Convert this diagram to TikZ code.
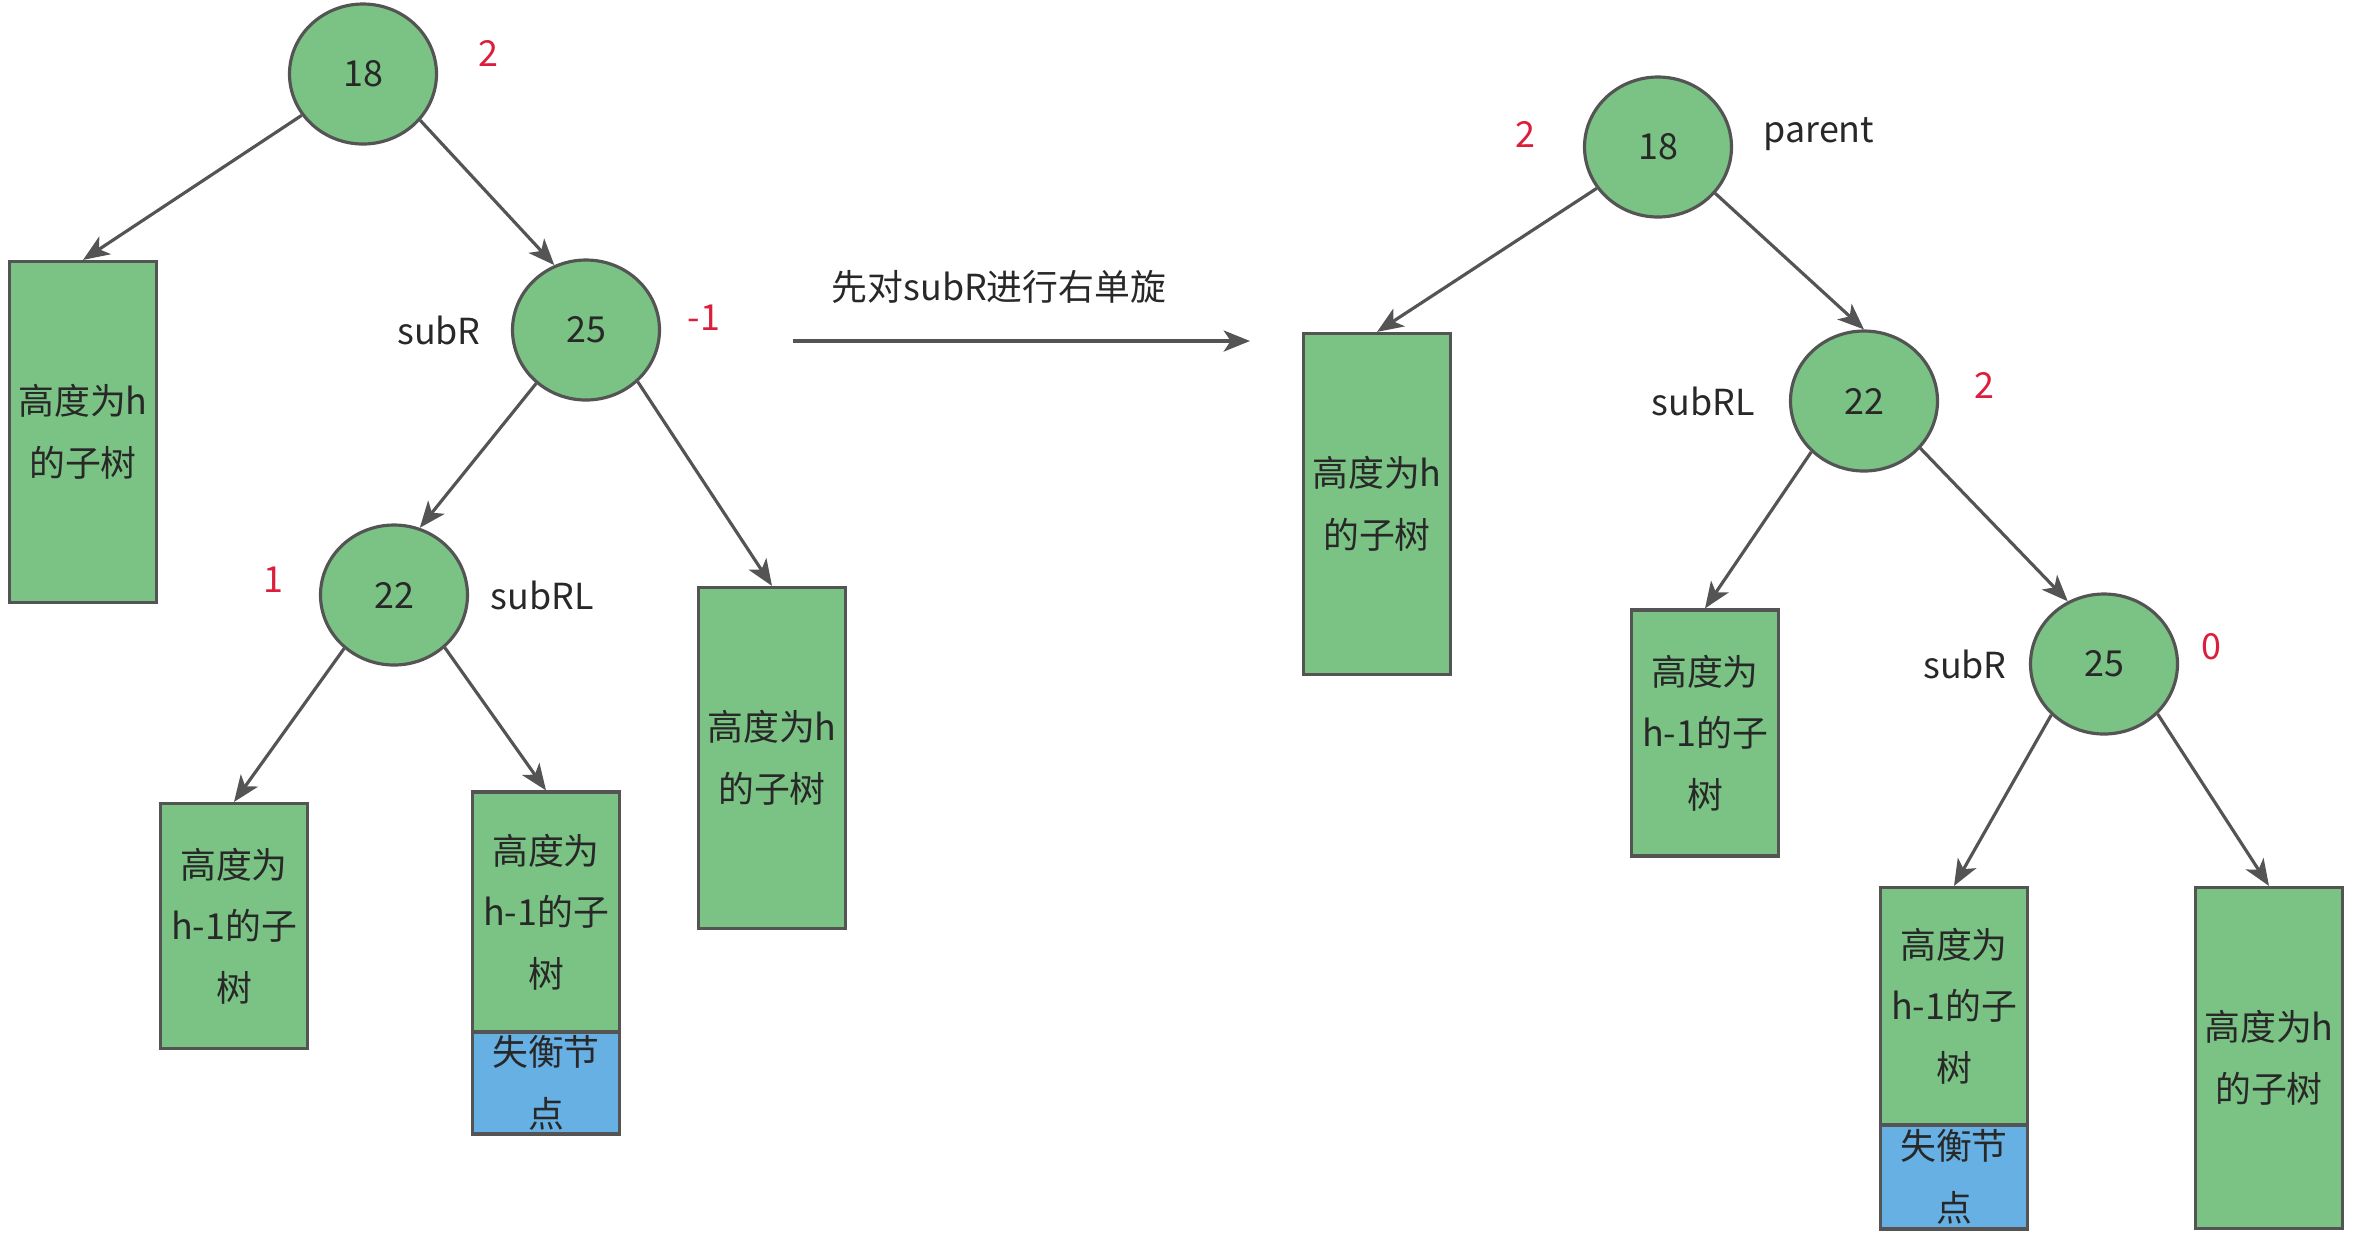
\documentclass[tikz,border=0pt]{standalone}
\usepackage{fontspec}
\setmainfont{Noto Sans CJK SC}
\usetikzlibrary{arrows.meta,shapes.geometric}
\definecolor{avlgreen}{RGB}{122,195,132}
\definecolor{avlblue}{RGB}{102,176,228}
\definecolor{avlgray}{RGB}{84,84,84}
\definecolor{avlred}{RGB}{220,30,60}
\definecolor{avltext}{RGB}{40,40,40}
\begin{document}
\begin{tikzpicture}[
  every node/.style={font=\fontsize{10.2}{17.5}\selectfont,text=avltext},
  keynode/.style={ellipse,draw=avlgray,fill=avlgreen,line width=0.9pt,
    minimum width=1.47cm,minimum height=1.40cm,inner sep=0pt},
  subtree/.style={rectangle,draw=avlgray,fill=avlgreen,line width=0.9pt,
    minimum width=1.47cm,inner sep=0pt,align=center},
  lostbox/.style={subtree,fill=avlblue},
  bf/.style={text=avlred},
  link/.style={draw=avlgray,line width=0.9pt,
    -{Stealth[length=7.5pt,width=6pt,inset=2pt]}}]
  \useasboundingbox (0,0) rectangle (23.55,-12.43);
  % before the rotation
  \node[keynode] (L18) at (3.63,-0.74) {18};
  \node[bf] (L18bf) at (4.88,-0.53) {2};
  \node[subtree,minimum height=3.41cm] (LA) at (0.83,-4.32) {高度为h\\的子树};
  \node[keynode] (L25) at (5.86,-3.30) {25};
  \node (L25name) at (4.39,-3.30) {subR};
  \node[bf] (L25bf) at (7.04,-3.18) {-1};
  \node[keynode] (L22) at (3.94,-5.95) {22};
  \node[bf] (L22bf) at (2.73,-5.80) {1};
  \node (L22name) at (5.42,-5.95) {subRL};
  \node[subtree,minimum height=3.41cm] (LD) at (7.72,-7.58) {高度为h\\的子树};
  \node[subtree,minimum height=2.45cm] (LB) at (2.34,-9.26) {高度为\\h-1的子\\树};
  \node[subtree,minimum height=2.40cm] (LC) at (5.46,-9.12) {高度为\\h-1的子\\树};
  \node[lostbox,minimum height=1.02cm] (LCx) at (5.46,-10.83) {失衡节\\点};
  \draw[link] (L18.214) -- (LA.north);
  \draw[link] (L18.321) -- (L25.116);
  \draw[link] (L25.227) -- (L22.69);
  \draw[link] (L25.315) -- (LD.north);
  \draw[link] (L22.227) -- (LB.north);
  \draw[link] (L22.314) -- (LC.north);
  % the step
  \coordinate (rotL) at (7.93,-3.41);
  \coordinate (rotR) at (12.50,-3.41);
  \draw[link] (rotL) -- (rotR);
  \node (rotlabel) at (9.99,-2.87) {先对subR进行右单旋};
  % after the rotation
  \node[keynode] (R18) at (16.58,-1.47) {18};
  \node[bf] (R18bf) at (15.25,-1.34) {2};
  \node (R18name) at (18.19,-1.34) {parent};
  \node[subtree,minimum height=3.41cm] (RA) at (13.77,-5.04) {高度为h\\的子树};
  \node[keynode] (R22) at (18.64,-4.01) {22};
  \node (R22name) at (17.03,-4.01) {subRL};
  \node[bf] (R22bf) at (19.84,-3.85) {2};
  \node[subtree,minimum height=2.46cm] (RB) at (17.05,-7.33) {高度为\\h-1的子\\树};
  \node[keynode] (R25) at (21.04,-6.64) {25};
  \node (R25name) at (19.65,-6.64) {subR};
  \node[bf] (R25bf) at (22.11,-6.47) {0};
  \node[subtree,minimum height=2.37cm] (RC) at (19.54,-10.06) {高度为\\h-1的子\\树};
  \node[lostbox,minimum height=1.04cm] (RCx) at (19.54,-11.77) {失衡节\\点};
  \node[subtree,minimum height=3.41cm] (RD) at (22.69,-10.58) {高度为h\\的子树};
  \draw[link] (R18.214) -- (RA.north);
  \draw[link] (R18.321) -- (R22.north);
  \draw[link] (R22.224) -- (RB.north);
  \draw[link] (R22.320) -- (R25.120);
  \draw[link] (R25.224) -- (RC.north);
  \draw[link] (R25.317) -- (RD.north);
\end{tikzpicture}
\end{document}
